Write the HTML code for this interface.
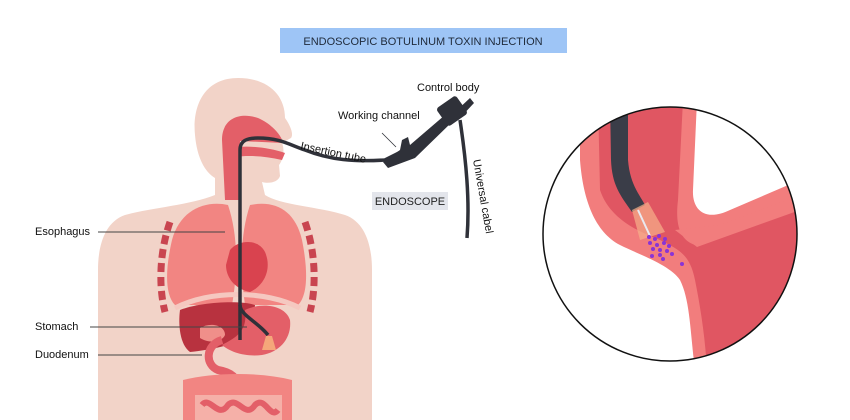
<!DOCTYPE html>
<html><head><meta charset="utf-8"><style>
html,body{margin:0;padding:0;background:#fff;}
svg{display:block;font-family:"Liberation Sans",sans-serif;}
</style></head><body>
<svg width="850" height="420" viewBox="0 0 850 420" xmlns="http://www.w3.org/2000/svg">
<rect width="850" height="420" fill="#fff"/>
<!-- title -->
<rect x="280" y="28" width="287" height="25" fill="#9ec5f6"/>
<text x="423" y="45" font-size="11" text-anchor="middle" fill="#1f2a3a">ENDOSCOPIC BOTULINUM TOXIN INJECTION</text>
<!-- body silhouette -->
<path d="M238 78 C205 78 192 105 195 135 C197 158 205 172 215 178 L215 195 C190 205 150 208 125 215 C105 222 98 245 98 270 L98 420 L372 420 L372 270 C372 245 365 222 345 215 C320 207 280 205 265 195 L262 182 C270 184 278 182 280 176 L279 165 C283 160 285 150 282 143 L291 138 C294 134 290 125 285 118 C285 95 268 78 238 78 Z" fill="#f2d3c8"/>
<!-- nasal/pharynx -->
<path d="M222 140 C222 118 240 112 258 118 C272 124 282 136 283 143 L240 141 L240 200 L225 200 Z" fill="#e35f68"/>
<path d="M232 148 C245 145 268 147 285 153 L282 160 C265 156 248 155 236 157 Z" fill="#e35f68"/>
<!-- lungs -->
<path d="M228 205 C205 200 180 210 172 240 C165 270 165 295 175 305 L232 305 C238 270 238 235 228 205 Z" fill="#f28582"/>
<path d="M250 205 C275 200 295 210 302 240 C308 270 308 295 298 305 L245 305 C240 270 240 235 250 205 Z" fill="#f28582"/>
<path d="M170 222 C160 250 158 285 165 312" stroke="#c94550" stroke-width="7" fill="none" stroke-dasharray="9 5"/>
<path d="M305 222 C315 250 317 285 310 312" stroke="#c94550" stroke-width="7" fill="none" stroke-dasharray="9 5"/>
<!-- heart -->
<path d="M230 250 C238 240 258 238 265 252 C272 268 265 285 250 292 C238 290 226 280 226 265 Z" fill="#d9434f"/>
<!-- diaphragm -->
<path d="M175 308 C210 290 265 290 300 308" stroke="#f5c8c0" stroke-width="5" fill="none"/>
<!-- liver -->
<path d="M180 310 C200 302 240 300 255 305 L252 335 C235 345 210 350 190 352 C180 345 178 325 180 310 Z" fill="#b8323f"/>
<!-- stomach -->
<path d="M245 310 C262 302 285 305 290 320 C292 338 280 352 262 355 C245 357 230 352 222 345 C235 338 248 332 245 310 Z" fill="#e35f68"/>
<path d="M200 328 C210 322 225 325 225 335 C222 342 210 344 200 338 Z" fill="#f08f8a"/>
<!-- duodenum -->
<path d="M222 340 C205 345 205 365 218 370 C230 372 240 378 236 388" stroke="#e35f68" stroke-width="8" fill="none"/>
<!-- intestines -->
<path d="M183 380 L183 420 L292 420 L292 380 C260 372 215 372 183 380 Z" fill="#f28582"/>
<path d="M195 395 L195 420 L282 420 L282 395 Z" fill="#f5b0a8"/>
<path d="M202 405 C210 395 218 420 228 405 C238 395 245 420 255 405 C265 395 270 420 278 410" stroke="#e35f68" stroke-width="6" fill="none"/>
<!-- endoscope inside body -->
<path d="M240 340 L240 150 C240 140 248 138 258 138 C280 138 290 145 305 150 C330 160 355 162 385 160 L405 150" stroke="#2f3139" stroke-width="3.5" fill="none"/>
<path d="M240 305 C240 315 258 322 268 335" stroke="#2f3139" stroke-width="3.5" fill="none"/>
<path d="M266 336 L272 336 L276 350 L262 350 Z" fill="#f5a77a"/>
<!-- control body -->
<path d="M383 162 L400 150 L402 140 L408 137 L410 145 L445 115 L452 122 L415 158 L388 168 Z" fill="#2f3139"/>
<rect x="440" y="100" width="24" height="22" rx="3" fill="#2f3139" transform="rotate(-35 452 111)"/>
<path d="M455 112 L470 98 L474 103 L460 118 Z" fill="#2f3139"/>
<path d="M460 120 C466 160 470 200 467 238" stroke="#2f3139" stroke-width="3.5" fill="none"/>
<line x1="382" y1="133" x2="396" y2="147" stroke="#2f3139" stroke-width="0.8"/>
<!-- labels -->
<text x="417" y="91" font-size="11" fill="#111">Control body</text>
<text x="338" y="119" font-size="11" fill="#111">Working channel</text>
<text x="300" y="149" font-size="11" fill="#111" transform="rotate(12 300 149)">Insertion tube</text>
<text x="473" y="160" font-size="11" fill="#111" transform="rotate(80 473 160)">Universal cabel</text>
<rect x="372" y="192" width="76" height="18" fill="#e3e5eb"/>
<text x="410" y="205" font-size="11" text-anchor="middle" fill="#222">ENDOSCOPE</text>
<text x="35" y="235" font-size="11" fill="#111">Esophagus</text>
<line x1="98" y1="232" x2="225" y2="232" stroke="#444" stroke-width="1"/>
<text x="35" y="330" font-size="11" fill="#111">Stomach</text>
<line x1="90" y1="327" x2="247" y2="327" stroke="#444" stroke-width="1"/>
<text x="35" y="358" font-size="11" fill="#111">Duodenum</text>
<line x1="98" y1="355" x2="202" y2="355" stroke="#444" stroke-width="1"/>
<!-- zoom circle -->
<defs><clipPath id="c"><circle cx="670" cy="234" r="127"/></clipPath></defs>
<g clip-path="url(#c)">
<rect x="540" y="100" width="260" height="270" fill="#fff"/>
<path d="M580 100 L697 100 L693 190 C692 210 705 222 730 210 L800 180 L800 370 L695 370 C690 330 690 300 680 280 C670 265 640 255 620 245 C595 232 583 200 580 160 Z" fill="#f27d7d"/>
<path d="M598 100 L683 100 L678 200 C675 225 680 240 695 245 L800 200 L800 370 L707 370 C705 335 700 305 695 280 C690 255 680 250 660 240 C640 232 610 220 600 190 Z" fill="#e05662"/>
<path d="M675 230 L697 247 L800 210 L800 195 L720 225 Z" fill="#f27d7d"/>
<path d="M610 100 L628 100 L628 160 C630 185 640 195 645 205 L632 212 C620 195 612 185 611 160 Z" fill="#3a3d48"/>
<path d="M632 210 L648 202 L665 232 L640 240 Z" fill="#f6b08a" opacity="0.7"/>
<line x1="638" y1="210" x2="650" y2="236" stroke="#e9e9f0" stroke-width="2"/>
<g fill="#8a34d6">
<circle cx="649" cy="237" r="2"/><circle cx="655" cy="239" r="2"/><circle cx="659" cy="236" r="2"/><circle cx="665" cy="239" r="2"/><circle cx="650" cy="243" r="2"/><circle cx="657" cy="245" r="2"/><circle cx="664" cy="243" r="2"/><circle cx="669" cy="246" r="2"/><circle cx="653" cy="249" r="2"/><circle cx="660" cy="250" r="2"/><circle cx="667" cy="251" r="2"/><circle cx="652" cy="256" r="2"/><circle cx="660" cy="255" r="2"/><circle cx="672" cy="254" r="2"/><circle cx="663" cy="259" r="2"/><circle cx="682" cy="264" r="2"/>
</g>
</g>
<circle cx="670" cy="234" r="127" fill="none" stroke="#111" stroke-width="1.5"/>
</svg>
</body></html>
